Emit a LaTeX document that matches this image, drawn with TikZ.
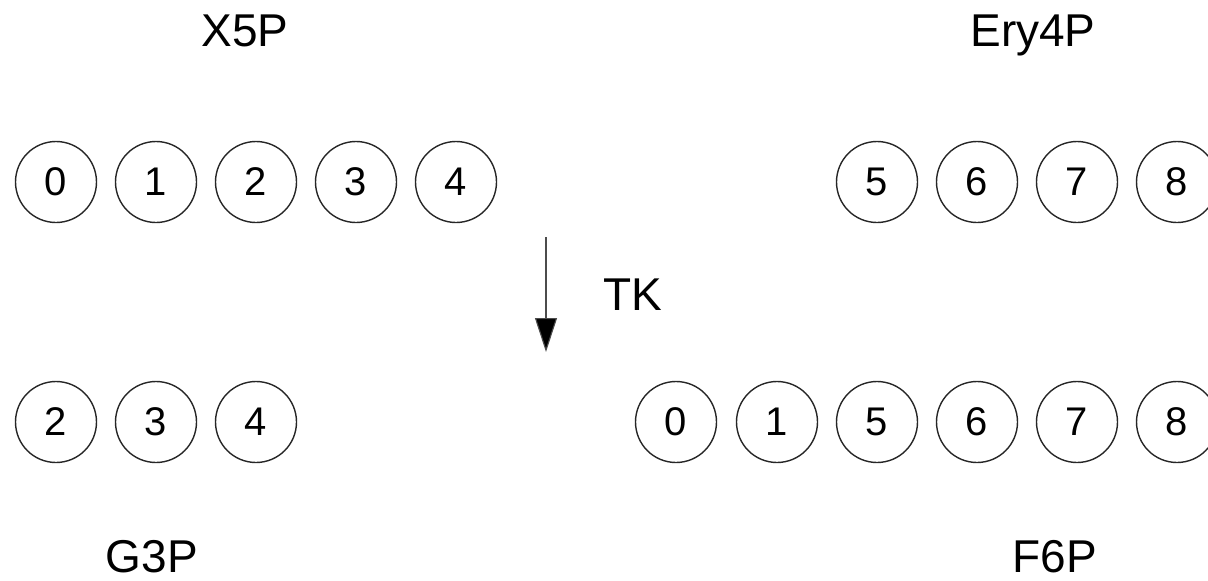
\documentclass[tikz,border=0pt]{standalone}
\usepackage{fontspec}
\setmainfont{Liberation Sans}
\usetikzlibrary{arrows.meta}
\begin{document}
\begin{tikzpicture}[x=1pt,y=-1pt,
  atom/.style={draw=black!85,line width=1.4pt,circle,minimum size=81pt,inner sep=0pt,
    font=\fontsize{40}{44}\selectfont},
  lbl/.style={anchor=base,inner sep=0pt,font=\fontsize{46}{50}\selectfont},
  rx/.style={line width=1.1pt,draw=black!70,-{Triangle[width=22pt,length=34pt,fill=black]}}]
\useasboundingbox (0,0) rectangle (1208,581);
% top row
\foreach \d/\x in {0/56,1/156,2/256,3/356,4/456,5/877,6/977,7/1077,8/1177}
  \node[atom] (t\d) at (\x,182) {\d};
% bottom row
\foreach \d/\x in {2/56,3/156,4/256}
  \node[atom] (bl\d) at (\x,422) {\d};
\foreach \d/\x in {0/676,1/777,5/877,6/977,7/1077,8/1177}
  \node[atom] (br\d) at (\x,422) {\d};
% labels
\node[lbl] (x5p) at (245,46) {X5P};
\node[lbl] (ery) at (1033,46) {Ery4P};
\node[lbl] (g3p) at (152,572) {G3P};
\node[lbl] (f6p) at (1055,572) {F6P};
\node[lbl] (tk) at (633,310) {TK};
% arrow
\coordinate (as) at (546,237);
\coordinate (ae) at (546,352);
\draw[rx] (as) -- (ae);
\end{tikzpicture}
\end{document}
